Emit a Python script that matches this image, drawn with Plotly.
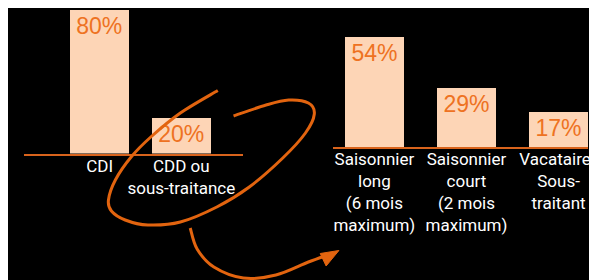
import plotly.graph_objects as go

# ---- data ----
left_categories = ["CDI", "CDD ou<br>sous-traitance"]
left_values = [80, 20]
left_labels = ["80%", "20%"]

right_categories = ["Saisonnier<br>long<br>(6 mois<br>maximum)",
                    "Saisonnier<br>court<br>(2 mois<br>maximum)",
                    "Vacataire/<br>Sous-<br>traitant"]
right_values = [54, 29, 17]
right_labels = ["54%", "29%", "17%"]

W, H = 597, 280
OFF = 8  # browser body margin
BAR = "#FDD5B6"
VAL = "#EE7222"
LINE = "#D8631C"
STROKE = "#E2640F"
VFONT = "Liberation Sans Narrow, Arial Narrow, sans-serif"
TFONT = "Roboto, Liberation Sans, sans-serif"


def fx(x):
    return (x - OFF) / W


def fy(y):
    return 1 - (y - OFF) / H


fig = go.Figure()
fig.add_trace(go.Bar(x=left_categories, y=left_values, text=left_labels,
                     textposition="inside", insidetextanchor="end",
                     textfont=dict(color=VAL, size=23, family=VFONT),
                     marker=dict(color=BAR, line=dict(width=0)), width=0.723,
                     xaxis="x", yaxis="y", hoverinfo="skip"))
fig.add_trace(go.Bar(x=right_categories, y=right_values, text=right_labels,
                     textposition="inside", insidetextanchor="end",
                     textfont=dict(color=VAL, size=23, family=VFONT),
                     marker=dict(color=BAR, line=dict(width=0)), width=0.642,
                     xaxis="x2", yaxis="y2", hoverinfo="skip"))


def catmull_path(pts):
    p = [(fx(a), fy(b)) for a, b in pts]
    d = "M %.5f %.5f" % p[0]
    for i in range(len(p) - 1):
        p0 = p[i - 1] if i > 0 else p[i]
        p1 = p[i]
        p2 = p[i + 1]
        p3 = p[i + 2] if i + 2 < len(p) else p[i + 1]
        c1 = (p1[0] + (p2[0] - p0[0]) / 6, p1[1] + (p2[1] - p0[1]) / 6)
        c2 = (p2[0] - (p3[0] - p1[0]) / 6, p2[1] - (p3[1] - p1[1]) / 6)
        d += " C %.5f %.5f %.5f %.5f %.5f %.5f" % (c1 + c2 + p2)
    return d


ellipse_pts = [(221, 90.5), (183, 113), (153, 137), (133, 157), (117, 180),
               (110, 200), (113, 211), (127, 220), (150, 225), (183, 222),
               (220, 207), (253, 187), (287, 158), (310, 133), (319, 114),
               (313, 103), (293, 100), (270, 105), (237, 116)]

arrow_pts = [(193, 228), (200, 249), (217, 267), (247, 278), (280, 275),
             (313, 262), (333, 255)]

shapes = [
    dict(type="path", path=catmull_path(ellipse_pts), xref="paper", yref="paper",
         line=dict(color=STROKE, width=3)),
    dict(type="path", path=catmull_path(arrow_pts), xref="paper", yref="paper",
         line=dict(color=STROKE, width=3)),
]
tri = [(fx(344), fy(250.5)), (fx(325), fy(253.5)), (fx(331), fy(266))]
shapes.append(dict(type="path",
                   path="M %.5f %.5f L %.5f %.5f L %.5f %.5f Z" % (tri[0] + tri[1] + tri[2]),
                   xref="paper", yref="paper", fillcolor=STROKE,
                   line=dict(color=STROKE, width=1)))

axis_common = dict(showgrid=False, zeroline=False, showline=True, linecolor=LINE,
                   linewidth=1.5, ticks="", ticklabelstandoff=-4,
                   tickfont=dict(color="white", size=17, family=TFONT),
                   fixedrange=True)

fig.update_layout(
    width=W, height=H, margin=dict(l=0, r=0, t=0, b=0),
    paper_bgcolor="black", plot_bgcolor="black", showlegend=False,
    bargap=0,
    xaxis=dict(domain=[fx(24), fx(247)], anchor="y", range=[-0.928, 1.759], **axis_common),
    yaxis=dict(domain=[fy(153.5), fy(10)], anchor="x", range=[0, 80], visible=False),
    xaxis2=dict(domain=[fx(338), fx(597)], anchor="y2", range=[-0.449, 2.321], **axis_common),
    yaxis2=dict(domain=[fy(147), fy(37)], anchor="x2", range=[0, 54], visible=False),
    shapes=shapes,
)

fig.write_html("out.html")
